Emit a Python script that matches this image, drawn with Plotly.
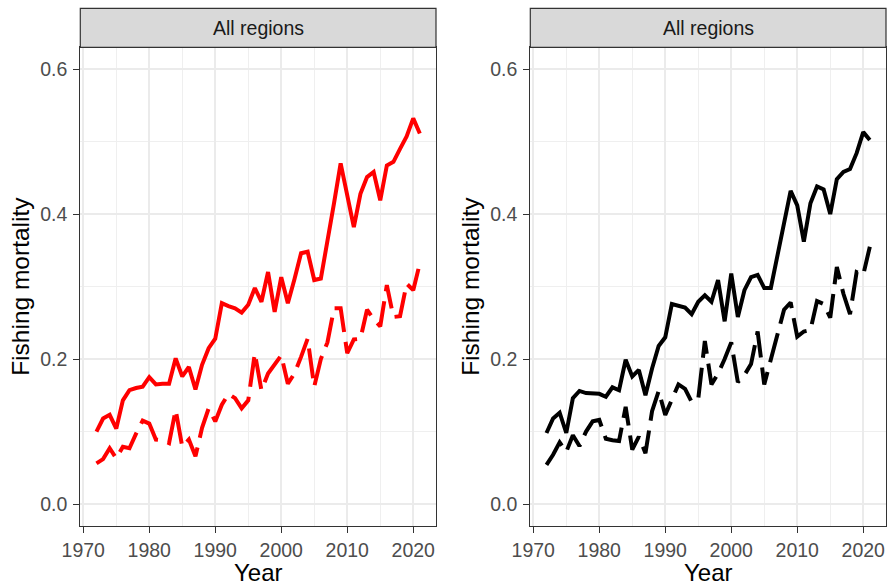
import plotly.graph_objects as go

# ---- data -------------------------------------------------------------
years = list(range(1972, 2022))

red_solid = [0.100, 0.118, 0.123, 0.104, 0.143, 0.157, 0.160, 0.162, 0.175, 0.165,
             0.166, 0.166, 0.201, 0.176, 0.189, 0.158, 0.192, 0.215, 0.228, 0.277,
             0.273, 0.270, 0.264, 0.275, 0.298, 0.279, 0.320, 0.265, 0.313, 0.277,
             0.310, 0.346, 0.348, 0.309, 0.311, 0.360, 0.415, 0.470, 0.425, 0.382,
             0.428, 0.451, 0.458, 0.419, 0.467, 0.472, 0.490, 0.507, 0.532, 0.511]

red_dashed = [0.056, 0.062, 0.077, 0.063, 0.079, 0.077, 0.097, 0.115, 0.111, 0.089,
              0.088, 0.084, 0.130, 0.079, 0.089, 0.066, 0.105, 0.132, 0.114, 0.137,
              0.152, 0.146, 0.132, 0.143, 0.208, 0.157, 0.180, 0.192, 0.205, 0.166,
              0.180, 0.203, 0.228, 0.162, 0.200, 0.223, 0.270, 0.270, 0.208, 0.227,
              0.228, 0.268, 0.255, 0.245, 0.302, 0.258, 0.259, 0.304, 0.295, 0.332]

black_solid = [0.098, 0.118, 0.126, 0.098, 0.146, 0.156, 0.153, 0.152, 0.152, 0.148,
               0.161, 0.157, 0.199, 0.176, 0.185, 0.150, 0.187, 0.218, 0.230, 0.276,
               0.273, 0.271, 0.262, 0.279, 0.288, 0.279, 0.309, 0.252, 0.318, 0.258,
               0.295, 0.313, 0.316, 0.298, 0.298, 0.345, 0.390, 0.432, 0.412, 0.362,
               0.415, 0.438, 0.434, 0.400, 0.448, 0.458, 0.462, 0.484, 0.513, 0.502]

black_dashed = [0.054, 0.068, 0.085, 0.072, 0.095, 0.080, 0.100, 0.114, 0.116, 0.090,
                0.088, 0.087, 0.134, 0.075, 0.093, 0.070, 0.128, 0.156, 0.123, 0.145,
                0.165, 0.159, 0.141, 0.145, 0.225, 0.165, 0.180, 0.200, 0.223, 0.168,
                0.178, 0.193, 0.238, 0.165, 0.199, 0.230, 0.268, 0.278, 0.231, 0.238,
                0.240, 0.280, 0.276, 0.257, 0.327, 0.290, 0.262, 0.320, 0.316, 0.355]

strip_label = "All regions"
x_title = "Year"
y_title = "Fishing mortality"
x_ticks = [1970, 1980, 1990, 2000, 2010, 2020]
y_ticks = [0.0, 0.2, 0.4, 0.6]

# ---- geometry ---------------------------------------------------------
W, H = 887, 587
FONT = "Liberation Sans, Arial, sans-serif"
panels = [  # (left px, right px) of each panel
    (80.3, 436.0),
    (530.3, 886.0),
]
PANEL_TOP, PANEL_BOTTOM = 47.3, 525.8
STRIP_TOP = 8.3

def px_x(p):
    return p / W

def px_y(p):
    return 1 - p / H

fig = go.Figure()

series = [
    (red_solid, "#FF0000", "solid", ""),
    (red_dashed, "#FF0000", "30px,10px", ""),
    (black_solid, "#000000", "solid", "2"),
    (black_dashed, "#000000", "30px,10px", "2"),
]
for vals, col, dash, ax in series:
    fig.add_trace(go.Scatter(
        x=years, y=vals, mode="lines",
        line=dict(color=col, width=4, dash=dash),
        xaxis="x" + ax, yaxis="y" + ax, showlegend=False, hoverinfo="skip",
    ))

axis_common = dict(
    automargin=False,
    showline=True, mirror=True, linecolor="#333333", linewidth=1.2,
    ticks="outside", ticklen=6, tickwidth=1.2, tickcolor="#333333",
    showgrid=True, gridcolor="#EBEBEB", gridwidth=1.9,
    zeroline=False,
    tickfont=dict(family=FONT, size=19.5, color="#4D4D4D"),
    layer="above traces",
)

shapes = []
annotations = []
for i, (x0, x1) in enumerate(panels):
    sfx = "" if i == 0 else str(i + 1)
    fig.update_layout(**{
        "xaxis" + sfx: dict(
            axis_common, domain=[px_x(x0), px_x(x1)], range=[1969.55, 2023.45],
            tickvals=x_ticks, anchor="y" + sfx, ticklabelstandoff=1,
            minor=dict(dtick=5, tick0=1970, showgrid=True, gridcolor="#EFEFEF",
                       gridwidth=1.0, ticks=""),
        ),
        "yaxis" + sfx: dict(
            axis_common, domain=[px_y(PANEL_BOTTOM), px_y(PANEL_TOP)], range=[-0.03, 0.63],
            tickvals=y_ticks, tickformat=".1f", anchor="x" + sfx, ticklabelstandoff=2,
            minor=dict(dtick=0.1, tick0=0, showgrid=True, gridcolor="#EFEFEF",
                       gridwidth=1.0, ticks=""),
        ),
    })
    # reference line at zero
    shapes.append(dict(type="line", xref="x%s domain" % sfx, yref="y" + sfx,
                       x0=0, x1=1, y0=0, y1=0, line=dict(color="#000000", width=2),
                       layer="below"))
    # facet strip
    shapes.append(dict(type="rect", xref="paper", yref="paper",
                       x0=px_x(x0), x1=px_x(x1), y0=px_y(PANEL_TOP), y1=px_y(STRIP_TOP),
                       fillcolor="#D9D9D9", line=dict(color="#333333", width=1.2)))
    annotations.append(dict(text=strip_label, xref="paper", yref="paper",
                            x=px_x((x0 + x1) / 2), y=px_y(28.5),
                            showarrow=False, xanchor="center", yanchor="middle",
                            font=dict(family=FONT, size=19.5, color="#1A1A1A")))
    annotations.append(dict(text=x_title, xref="paper", yref="paper",
                            x=px_x((x0 + x1) / 2), y=px_y(572),
                            showarrow=False, xanchor="center", yanchor="middle",
                            font=dict(family=FONT, size=24, color="#000000")))
    annotations.append(dict(text=y_title, xref="paper", yref="paper",
                            x=px_x(x0 - 60), y=px_y((PANEL_TOP + PANEL_BOTTOM) / 2),
                            showarrow=False, xanchor="center", yanchor="middle",
                            textangle=-90,
                            font=dict(family=FONT, size=24.5, color="#000000")))

fig.update_layout(
    template="none",
    width=W, height=H,
    margin=dict(l=0, r=0, t=0, b=0, pad=0),
    paper_bgcolor="white", plot_bgcolor="white",
    shapes=shapes, annotations=annotations,
    showlegend=False,
)

fig.write_html("out.html")
